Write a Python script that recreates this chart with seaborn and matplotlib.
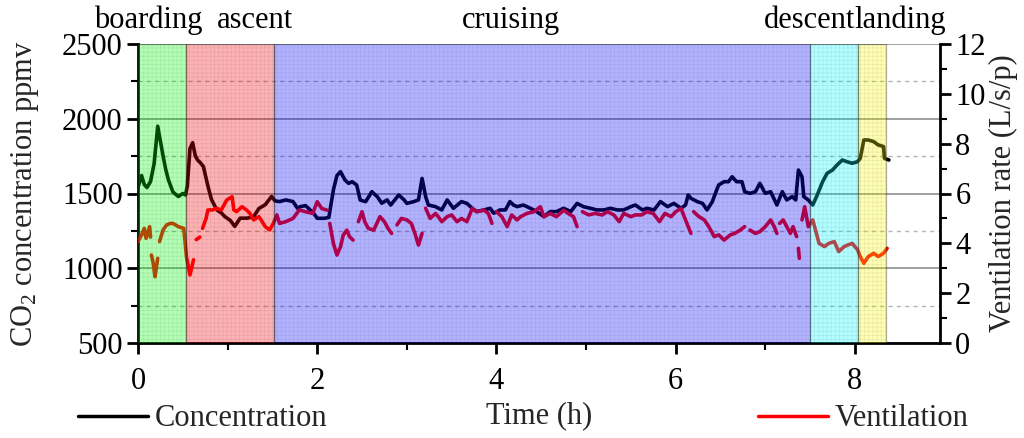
import numpy as np
import pandas as pd
import matplotlib
matplotlib.use("Agg")
import matplotlib.pyplot as plt
import seaborn as sns
from matplotlib.lines import Line2D
from matplotlib.ticker import MultipleLocator
from matplotlib.colors import to_rgba

nan = np.nan

# ---------------- data ----------------
conc_time = [0.00, 0.04, 0.07, 0.10, 0.14, 0.18, 0.22, 0.25, 0.28, 0.31, 0.34, 0.39, 0.45, 0.50, 0.53,
             0.55, 0.58, 0.61, 0.64, 0.67, 0.69, 0.73, 0.78, 0.82, 0.88, 0.93, 0.97, 1.03, 1.08, 1.14,
             1.22, 1.29, 1.35, 1.42, 1.49, 1.53, 1.58, 1.65, 1.73, 1.78, 1.81, 1.87, 1.96, 2.00, 2.08,
             2.13, 2.18, 2.22, 2.26, 2.31, 2.35, 2.39, 2.44, 2.48, 2.54, 2.61, 2.67, 2.72, 2.78, 2.82,
             2.91, 2.97, 3.00, 3.08, 3.13, 3.17, 3.21, 3.24, 3.32, 3.39, 3.45, 3.52, 3.61, 3.67, 3.73,
             3.78, 3.86, 3.93, 3.97, 4.04, 4.10, 4.15, 4.19, 4.23, 4.30, 4.38, 4.45, 4.53, 4.60, 4.67,
             4.75, 4.83, 4.90, 4.97, 5.05, 5.12, 5.20, 5.27, 5.35, 5.42, 5.50, 5.55, 5.63, 5.68, 5.76,
             5.83, 5.91, 5.98, 6.06, 6.11, 6.14, 6.17, 6.24, 6.30, 6.35, 6.41, 6.45, 6.48, 6.54, 6.59,
             6.63, 6.68, 6.74, 6.77, 6.83, 6.89, 6.94, 7.00, 7.06, 7.13, 7.19, 7.24, 7.30, 7.34, 7.37,
             7.41, 7.43, 7.48, 7.53, 7.58, 7.64, 7.69, 7.75, 7.80, 7.86, 7.91, 7.97, 8.03, 8.06, 8.10,
             8.15, 8.21, 8.26, 8.32, 8.33, 8.38]
conc_ppmv = [1540, 1620, 1560, 1540, 1580, 1700, 1950, 1850, 1750, 1660, 1590, 1510, 1480, 1500, 1490,
             1550, 1800, 1840, 1750, 1720, 1710, 1680, 1550, 1460, 1390, 1370, 1345, 1320, 1280, 1335,
             1335, 1345, 1400, 1425, 1480, 1450, 1446, 1457, 1446, 1401, 1412, 1419, 1368, 1334, 1334,
             1340, 1523, 1620, 1646, 1590, 1568, 1579, 1557, 1456, 1445, 1512, 1479, 1435, 1457, 1423,
             1490, 1457, 1434, 1446, 1457, 1601, 1479, 1423, 1412, 1390, 1457, 1401, 1446, 1434, 1401,
             1379, 1390, 1401, 1368, 1390, 1390, 1446, 1423, 1412, 1423, 1401, 1379, 1345, 1379, 1379,
             1401, 1379, 1434, 1412, 1401, 1390, 1390, 1401, 1390, 1390, 1412, 1423, 1390, 1401, 1390,
             1446, 1412, 1434, 1401, 1423, 1490, 1468, 1446, 1434, 1390, 1446, 1512, 1557, 1579, 1579,
             1612, 1579, 1579, 1512, 1501, 1512, 1568, 1501, 1512, 1423, 1512, 1457, 1479, 1457, 1657,
             1612, 1479, 1457, 1423, 1490, 1579, 1635, 1657, 1690, 1724, 1713, 1702, 1713, 1735, 1858,
             1858, 1847, 1825, 1814, 1735, 1724]

vent_time = [0.00, 0.04, 0.07, 0.09, 0.13, 0.14, 0.145,
             0.15, 0.17, 0.19, 0.20, 0.22, 0.23,
             0.24, 0.28, 0.32, 0.36, 0.39, 0.45, 0.51, 0.53, 0.54, 0.58, 0.62, 0.63,
             0.65, 0.69, 0.70,
             0.72, 0.76, 0.78, 0.83, 0.88, 0.93, 0.99, 1.05, 1.07, 1.10, 1.16, 1.21, 1.25, 1.29,
             1.35, 1.38, 1.42, 1.47, 1.51, 1.55, 1.58, 1.65, 1.73, 1.80, 1.87, 1.95, 2.00, 2.05, 2.11, 2.12,
             2.14, 2.18, 2.22, 2.26, 2.29, 2.33, 2.36, 2.40, 2.41,
             2.46, 2.50, 2.53, 2.57, 2.63, 2.70, 2.75, 2.79, 2.83, 2.84,
             2.89, 2.94, 3.00, 3.05, 3.09, 3.13, 3.17, 3.18,
             3.21, 3.26, 3.32, 3.35, 3.39, 3.45, 3.50, 3.56, 3.61, 3.67, 3.73, 3.78, 3.86, 3.91, 3.95, 3.96,
             4.00, 4.06, 4.12, 4.17, 4.23, 4.27, 4.34, 4.42, 4.49, 4.53, 4.60, 4.67, 4.75, 4.80, 4.86, 4.90, 4.91,
             4.96, 5.03, 5.10, 5.18, 5.24, 5.31, 5.37, 5.42, 5.50, 5.55, 5.62, 5.68, 5.75, 5.82, 5.88, 5.95,
             6.00, 6.06, 6.11, 6.17, 6.18,
             6.20, 6.26, 6.32, 6.37, 6.43, 6.48, 6.54, 6.61, 6.66, 6.72, 6.77, 6.78,
             6.83, 6.89, 6.94, 7.00, 7.06, 7.10, 7.13, 7.14,
             7.16, 7.20, 7.24, 7.28, 7.31, 7.35, 7.355,
             7.37, 7.38, 7.39,
             7.41, 7.44, 7.48, 7.53, 7.56, 7.60, 7.66, 7.71, 7.77, 7.82, 7.88, 7.92, 7.97, 8.03, 8.06,
             8.10, 8.15, 8.21, 8.26, 8.32, 8.36]
vent_rate = [4.07, 4.34, 4.60, 4.20, 4.67, 4.25, nan,
             3.53, 3.20, 2.66, 2.90, 3.40, nan,
             4.07, 4.54, 4.74, 4.80, 4.80, 4.67, 4.60, 3.87, 3.47, 2.73, 3.34, nan,
             4.15, 4.25, nan,
             4.60, 5.00, 5.34, 5.34, 5.40, 5.34, 5.74, 5.87, 5.34, 5.27, 5.47, 5.34, 5.20, 4.94,
             5.07, 4.90, 4.67, 4.54, 4.80, 5.14, 4.80, 4.87, 5.00, 5.34, 5.27, 5.20, 5.67, 5.40, 5.33, nan,
             4.80, 4.00, 3.53, 3.86, 4.33, 4.53, 4.27, 4.13, nan,
             4.87, 5.27, 4.87, 4.60, 4.53, 5.07, 4.87, 4.60, 4.40, nan,
             4.74, 5.00, 4.94, 4.80, 4.40, 3.93, 4.40, nan,
             5.41, 5.00, 5.20, 5.07, 4.87, 5.07, 5.14, 4.87, 5.00, 4.87, 5.40, 5.27, 5.33, 5.20, 4.80, nan,
             5.27, 5.07, 4.67, 5.14, 4.94, 5.07, 5.20, 5.27, 5.47, 5.07, 5.20, 5.07, 5.33, 5.20, 5.07, 4.67, nan,
             5.27, 5.14, 5.20, 5.14, 5.27, 5.14, 4.87, 5.20, 5.07, 5.14, 5.14, 5.27, 5.20, 4.87, 5.20, 5.07,
             5.27, 5.40, 4.94, 4.40, nan,
             5.27, 5.07, 4.94, 4.67, 4.27, 4.34, 4.13, 4.34, 4.40, 4.53, 4.67, nan,
             4.53, 4.40, 4.47, 4.67, 4.94, 4.67, 4.40, nan,
             4.80, 4.94, 4.67, 4.40, 4.67, 4.27, nan,
             3.80, 3.40, nan,
             4.94, 5.47, 4.67, 4.94, 4.54, 4.00, 3.87, 4.00, 4.07, 3.67, 3.87, 3.93, 4.00, 3.74, 3.47,
             3.20, 3.47, 3.60, 3.47, 3.60, 3.80]

phase_names = ["boarding", "ascent", "cruising", "descent", "landing"]
phase_bounds = [0.0, 0.536, 1.52, 7.50, 8.04, 8.35]
phase_colors = ["#00ff00", "#ff0000", "#0000ff", "#00ffff", "#ffff00"]
phase_label_x = [0.11, 1.31, 4.16, 7.49, 8.51]

# ---------------- style ----------------
sns.set_theme(style="ticks")
plt.rcParams["font.family"] = ["Liberation Serif", "DejaVu Serif"]
plt.rcParams["mathtext.fontset"] = "custom"
plt.rcParams["mathtext.rm"] = "Liberation Serif"
plt.rcParams["mathtext.it"] = "Liberation Serif:italic"
plt.rcParams["hatch.linewidth"] = 0.6
FS = 22

fig = plt.figure(figsize=(10.24, 4.38), dpi=100)
ax = fig.add_axes([138 / 1024, 1 - 343 / 438, (940 - 138) / 1024, 299 / 438])
ax2 = ax.twinx()

conc_df = pd.DataFrame({"t": conc_time, "c": conc_ppmv})
sns.lineplot(data=conc_df, x="t", y="c", ax=ax, color="black", lw=2.6,
             estimator=None, sort=False)

vent_df = pd.DataFrame({"t": vent_time, "v": vent_rate})
vent_df["seg"] = vent_df["v"].isna().cumsum()
vent_df = vent_df.dropna()
sns.lineplot(data=vent_df, x="t", y="v", units="seg", estimator=None, ax=ax2,
             color="red", lw=2.6, sort=False, zorder=2)

# phase spans drawn on top (translucent) -> tint the lines as in the original
for a, b, c in zip(phase_bounds[:-1], phase_bounds[1:], phase_colors):
    ax2.axvspan(a, b, facecolor=to_rgba(c, 0.3), edgecolor=(0.1, 0.1, 0.1, 0.35),
                lw=0.9, zorder=5)
    ax2.axvspan(a, b, facecolor="none", edgecolor=(0.2, 0.2, 0.45, 0.10),
                hatch="++++", lw=0, zorder=5.1)

for name, x in zip(phase_names, phase_label_x):
    ax.text(x, 1.054, name, transform=ax.get_xaxis_transform(), ha="center",
            va="baseline", fontsize=FS, color="black")

# limits / ticks
ax.set_xlim(0, 8.95)
ax.set_ylim(500, 2500)
ax2.set_ylim(0, 12)
ax.set_xticks([0, 2, 4, 6, 8])
ax.xaxis.set_minor_locator(MultipleLocator(1))
ax.set_yticks([500, 1000, 1500, 2000, 2500])
ax.yaxis.set_minor_locator(MultipleLocator(250))
ax2.set_yticks([0, 2, 4, 6, 8, 10, 12])
ax2.yaxis.set_minor_locator(MultipleLocator(1))

ax.yaxis.grid(True, which="major", color="#8f8f8f", lw=1.2, ls="-")
ax.yaxis.grid(True, which="minor", color="#b5b5b5", lw=1.0, ls=(0, (3, 3)))
ax.xaxis.grid(False)
ax.set_axisbelow(True)

for a_ in (ax, ax2):
    a_.tick_params(which="major", direction="out", length=8, width=2,
                   labelsize=FS, pad=3, colors="black")
    a_.tick_params(which="minor", direction="out", length=5, width=1.5, colors="black")
    a_.spines["top"].set_visible(False)
    for s in a_.spines.values():
        s.set_linewidth(2)
        s.set_color("black")
ax.tick_params(axis="x", which="major", pad=9)
ax.spines["right"].set_visible(False)
ax2.spines["left"].set_visible(False)
ax2.spines["bottom"].set_visible(False)

ax.set_xlabel("Time (h)", fontsize=FS, labelpad=4)
ax.set_ylabel("CO$_2$ concentration ppmv", fontsize=FS, labelpad=15)
ax2.set_ylabel("Ventilation rate (L/s/p)", fontsize=FS, labelpad=2)

# legends
fig.legend(handles=[Line2D([], [], color="black", lw=2.5)], labels=["Concentration"],
           loc="center left", bbox_to_anchor=(78 / 1024, 1 - 419 / 438), frameon=False,
           fontsize=FS, handlelength=2.3, handletextpad=0.2, borderpad=0, borderaxespad=0)
fig.legend(handles=[Line2D([], [], color="red", lw=2.5)], labels=["Ventilation"],
           loc="center left", bbox_to_anchor=(758 / 1024, 1 - 419 / 438), frameon=False,
           fontsize=FS, handlelength=2.3, handletextpad=0.2, borderpad=0, borderaxespad=0)

fig.savefig("out.png", dpi=100)
